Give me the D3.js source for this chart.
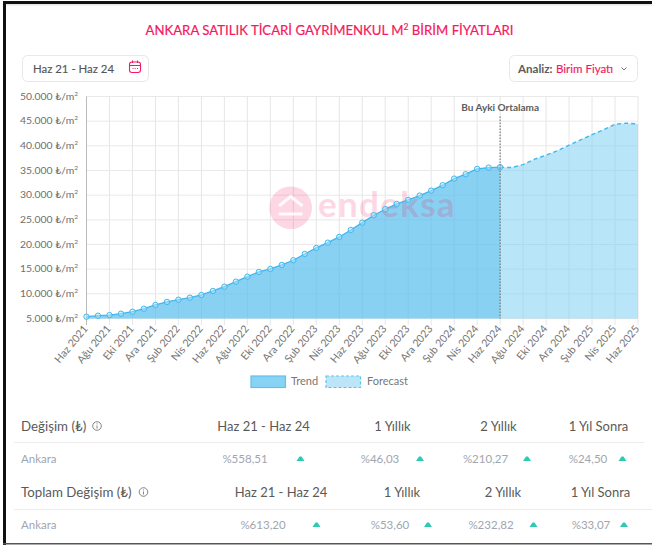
<!DOCTYPE html>
<html><head><meta charset="utf-8">
<script src="https://cdn.jsdelivr.net/npm/d3@7"></script>
<style>html,body{margin:0;padding:0;background:#fff;}svg{display:block;}text{font-family:Lato,"Open Sans",sans-serif;}</style>
</head><body><svg id="c" width="652" height="545"></svg>
<script>
const tickLabels=["Haz 2021","Ağu 2021","Eki 2021","Ara 2021","Şub 2022","Nis 2022","Haz 2022","Ağu 2022","Eki 2022","Ara 2022","Şub 2023","Nis 2023","Haz 2023","Ağu 2023","Eki 2023","Ara 2023","Şub 2024","Nis 2024","Haz 2024","Ağu 2024","Eki 2024","Ara 2024","Şub 2025","Nis 2025","Haz 2025"];
const trendValues=[5370,5570,5700,5970,6380,6990,7740,8350,8810,9220,9770,10580,11450,12470,13480,14430,15040,15850,16800,18080,19300,20370,21530,22950,24430,25930,27150,28230,29040,29910,30920,32020,33360,34250,35330,35590,35670];
const forecastValues=[35670,35590,36200,37290,38100,39040,40130,41210,42280,43240,44390,44590,44450];
const yTicks=[5000,10000,15000,20000,25000,30000,35000,40000,45000,50000];
const tableRows1=[["Değişim (₺)","Haz 21 - Haz 24","1 Yıllık","2 Yıllık","1 Yıl Sonra"],["Ankara","%558,51","%46,03","%210,27","%24,50"]];
const tableRows2=[["Toplam Değişim (₺)","Haz 21 - Haz 24","1 Yıllık","2 Yıllık","1 Yıl Sonra"],["Ankara","%613,20","%53,60","%232,82","%33,07"]];

const svg=d3.select("#c");
const x=d3.scaleLinear().domain([0,48]).range([86.5,638]);
const y=d3.scaleLinear().domain([5000,50000]).range([318.5,96.5]);
const fmt=v=>d3.format(",")(v).replace(/,/g,".");

// page frame
svg.append("rect").attr("x",0).attr("y",0).attr("width",652).attr("height",545).attr("fill","#fff");
svg.append("rect").attr("x",3).attr("y",1).attr("width",649).attr("height",3).attr("fill","#111");
svg.append("rect").attr("x",3).attr("y",1).attr("width",3).attr("height",544).attr("fill","#111");
svg.append("rect").attr("x",6).attr("y",4).attr("width",646).attr("height",1.5).attr("fill","#e8e8e8");
svg.append("rect").attr("x",3).attr("y",543).attr("width",649).attr("height",1.5).attr("fill","#555");

// title
const title=svg.append("text").attr("x",329.5).attr("y",35).attr("text-anchor","middle").attr("font-size",13.2).attr("fill","#f5195f").attr("stroke","#f5195f").attr("stroke-width",0.2);
title.append("tspan").text("ANKARA SATILIK TİCARİ GAYRİMENKUL M");
title.append("tspan").text("2").attr("font-size",8.5).attr("dy",-5);
title.append("tspan").text(" BİRİM FİYATLARI").attr("dy",5);

// controls
svg.append("rect").attr("x",22.5).attr("y",55.5).attr("width",126).attr("height",26).attr("rx",5).attr("fill","#fff").attr("stroke","#e8e8ec");
svg.append("text").attr("x",33).attr("y",73).attr("font-size",11.4).attr("fill","#555").attr("stroke","#555").attr("stroke-width",0.15).text("Haz 21 - Haz 24");
const cal=svg.append("g").attr("fill","none").attr("stroke","#f5195f").attr("stroke-width",1.1);
cal.append("rect").attr("x",129.5).attr("y",62).attr("width",11).attr("height",10.5).attr("rx",2.5);
cal.append("path").attr("d","M129.5 65.5H140.5M132.5 60.5V63M137.5 60.5V63M132.5 68.5H133.5M134.7 68.5H135.7M137 68.5H138");
svg.append("rect").attr("x",509.5).attr("y",55.5).attr("width",128).attr("height",26).attr("rx",5).attr("fill","#fff").attr("stroke","#e8e8ec");
svg.append("text").attr("x",518).attr("y",73).attr("font-size",11.6).attr("font-weight",700).attr("fill","#5c5c5c").text("Analiz:");
svg.append("text").attr("x",556).attr("y",73).attr("font-size",11.5).attr("fill","#f5195f").attr("stroke","#f5195f").attr("stroke-width",0.15).text("Birim Fiyatı");
svg.append("path").attr("d","M621.5 67.5l2.5 2.5 2.5-2.5").attr("fill","none").attr("stroke","#777").attr("stroke-width",1);

// grid
const vTicks=d3.range(0,49,2);
svg.append("g").selectAll("line").data(yTicks).join("line").attr("x1",86).attr("x2",638).attr("y1",d=>y(d)).attr("y2",d=>y(d)).attr("stroke","#e9e9ea").attr("stroke-width",1);
svg.append("g").selectAll("line").data(vTicks).join("line").attr("x1",d=>x(d)).attr("x2",d=>x(d)).attr("y1",96.5).attr("y2",325).attr("stroke","#e6e6e7").attr("stroke-width",1);
svg.append("line").attr("x1",86.5).attr("x2",86.5).attr("y1",96.5).attr("y2",325).attr("stroke","#bbb");

// areas
const area=d3.area().x(d=>x(d.i)).y0(y(5000)).y1(d=>y(d.v));
const line=d3.line().x(d=>x(d.i)).y(d=>y(d.v));
const trend=trendValues.map((v,i)=>({i,v}));
const forecast=forecastValues.map((v,i)=>({i:i+36,v}));
svg.append("path").datum(forecast).attr("d",area).attr("fill","rgba(125,208,240,0.55)");
svg.append("path").datum(trend).attr("d",area).attr("fill","rgba(86,189,237,0.70)");

// watermark
const wm=svg.append("g").attr("opacity",0.17);
wm.append("path").attr("fill-rule","evenodd").attr("fill","#f5195f")
  .attr("d",d3.arc()({innerRadius:0,outerRadius:21.3,startAngle:0,endAngle:2*Math.PI})).attr("transform","translate(290.7,207.7)");
svg.append("path").attr("d","M279 206L290.7 196.5L302.5 206").attr("fill","none").attr("stroke","#fff").attr("stroke-width",3.2).attr("opacity",0.85);
svg.append("rect").attr("x",278.5).attr("y",212.5).attr("width",24).attr("height",3).attr("fill","#fff").attr("opacity",0.85);
svg.append("text").attr("x",318).attr("y",217).attr("font-size",35).attr("font-weight",700).attr("letter-spacing",1.3).attr("fill","#f5195f").attr("opacity",0.17).text("endeksa");

// lines and points
svg.append("path").datum(forecast).attr("d",line).attr("fill","none").attr("stroke","#3fb6ee").attr("stroke-width",1.4).attr("stroke-dasharray","4 3");
svg.append("path").datum(trend).attr("d",line).attr("fill","none").attr("stroke","#3fb6ee").attr("stroke-width",1.3);
svg.append("g").selectAll("circle").data(trend).join("circle").attr("cx",d=>x(d.i)).attr("cy",d=>y(d.v)).attr("r",2.7).attr("fill","rgba(190,232,250,0.5)").attr("stroke","#43b9f0").attr("stroke-width",1);

// current month marker
svg.append("line").attr("x1",x(36)).attr("x2",x(36)).attr("y1",116.5).attr("y2",318.5).attr("stroke","#666").attr("stroke-width",1).attr("stroke-dasharray","1.5 1.5");
svg.append("text").attr("x",x(36)).attr("y",110.5).attr("text-anchor","middle").attr("font-size",10).attr("font-weight",700).attr("fill","#5c5c5c").text("Bu Ayki Ortalama");

// axes labels
const yl=svg.append("g").selectAll("text").data(yTicks).join("text").attr("x",78).attr("y",d=>y(d)+3).attr("text-anchor","end").attr("font-size",10.4).attr("fill","#6e6e6e");
yl.append("tspan").text(d=>fmt(d)+" ₺/m");
yl.append("tspan").text("2").attr("font-size",6.5).attr("dy",-4);
svg.append("g").selectAll("text").data(tickLabels).join("text").attr("text-anchor","end").attr("font-size",10.6).attr("fill","#757575")
  .attr("transform",(d,i)=>`translate(${x(i*2)+2},${329}) rotate(-50)`).text(d=>d);

// legend
svg.append("rect").attr("x",251).attr("y",376).attr("width",34.5).attr("height",11.5).attr("fill","#88d2f3").attr("stroke","#5cc3f0").attr("stroke-width",1.2);
svg.append("text").attr("x",291).attr("y",385).attr("font-size",11).attr("fill","#777").text("Trend");
svg.append("rect").attr("x",326).attr("y",376).attr("width",34.5).attr("height",11.5).attr("fill","#bce6f7").attr("stroke","#5cc3f0").attr("stroke-width",1.2).attr("stroke-dasharray","3 2");
svg.append("text").attr("x",367).attr("y",385).attr("font-size",11).attr("fill","#777").text("Forecast");

// tables
function table(rows,yHead,yLine,lineEnd,yRow,hx,vx,ax,infoX){
  const g=svg.append("g");
  g.append("text").attr("x",21).attr("y",yHead).attr("font-size",13.3).attr("fill","#5a5a5a").text(rows[0][0]);
  g.append("circle").attr("cx",infoX).attr("cy",yHead-4.5).attr("r",4.3).attr("fill","none").attr("stroke","#666").attr("stroke-width",.8);
  g.append("path").attr("d",`M${infoX} ${yHead-5}v3M${infoX} ${yHead-7.1}v1`).attr("stroke","#666").attr("stroke-width",.8);
  g.selectAll("text.h").data(rows[0].slice(1)).join("text").attr("class","h").attr("x",(d,i)=>hx[i]).attr("y",yHead).attr("text-anchor","middle").attr("font-size",13).attr("fill","#5a5a5a").text(d=>d);
  g.append("line").attr("x1",14).attr("x2",lineEnd).attr("y1",yLine).attr("y2",yLine).attr("stroke","#ececee");
  g.append("text").attr("x",21).attr("y",yRow).attr("font-size",11.5).attr("fill","#a0a6b0").text(rows[1][0]);
  g.selectAll("text.v").data(rows[1].slice(1)).join("text").attr("class","v").attr("x",(d,i)=>vx[i]).attr("y",yRow).attr("text-anchor","middle").attr("font-size",11.5).attr("fill","#a0a6b0").text(d=>d);
  g.selectAll("path.a").data(ax).join("path").attr("class","a").attr("d",d=>`M${d-4} ${yRow-2}L${d-1} ${yRow-6.5}L${d+1} ${yRow-6.5}L${d+4} ${yRow-2}Z`).attr("fill","#2fc9b4");
}
table(tableRows1,430.5,442.5,644,463,[263.5,392.5,498.5,598.5],[245,380,485.5,588],[300.5,420,527,622.5],97);
table(tableRows2,496.5,509.5,652,529,[281,402,503,600.5],[263,390,491,591],[316.5,428,533.5,624],143.5);
</script></body></html>
